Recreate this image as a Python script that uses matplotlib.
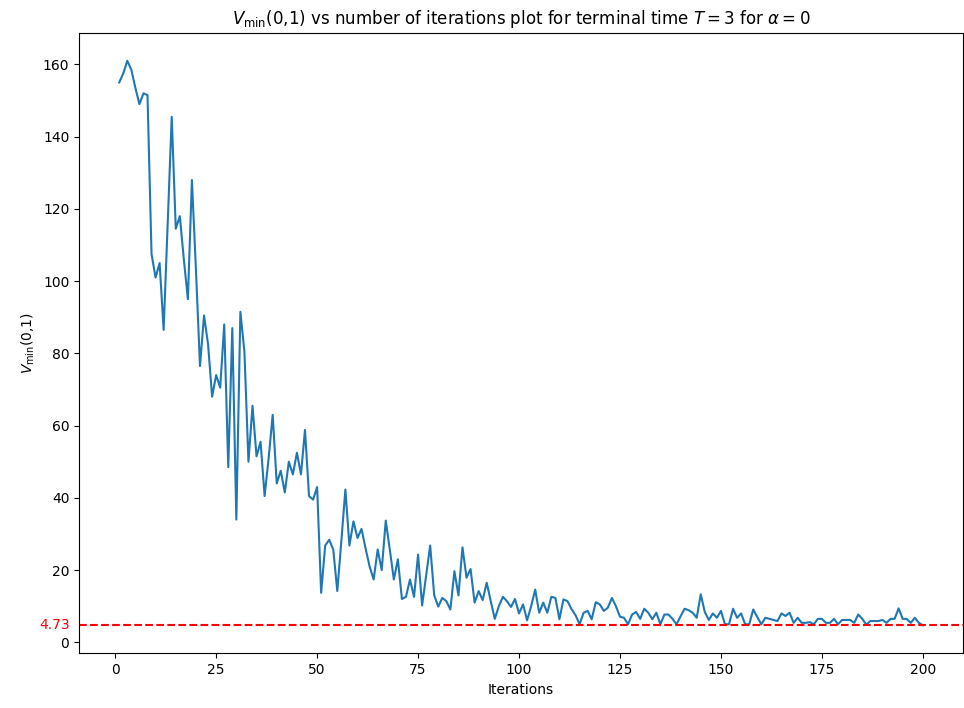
import numpy as np
import matplotlib.pyplot as plt

# V_min(0,1) per iteration
iterations = np.arange(1, 201)
v_min = [
    155, 157.5, 161, 158.5, 153.5, 149, 152, 151.5, 107.5, 101,
    105, 86.5, 116, 145.5, 114.5, 118, 106, 95, 128, 103,
    76.5, 90.5, 82.5, 68, 74, 70.5, 88, 48.5, 87, 34,
    91.5, 80.5, 50, 65.5, 51.5, 55.5, 40.5, 51, 63, 44,
    47.5, 41.5, 50, 46.5, 52.5, 46.5, 58.8, 40.5, 39.5, 43,
    13.7, 26.8, 28.4, 25.7, 14.2, 28, 42.3, 26.8, 33.5, 28.9,
    31.4, 26, 21, 17.4, 25.7, 20, 33.7, 25.7, 17.4, 23,
    12, 12.6, 17.4, 12.6, 24.3, 10.2, 18.5, 26.8, 13, 9.9,
    12.3, 11.4, 9.1, 19.7, 13, 26.3, 17.9, 20.3, 11, 14.2,
    11.7, 16.5, 11.4, 6.5, 10, 12.6, 11.4, 9.8, 12, 8,
    10.5, 6.1, 10, 14.6, 8.2, 11, 8.2, 12.6, 12.3, 6.4,
    11.9, 11.4, 9.2, 7.5, 5.0, 8.2, 8.7, 6.4, 11.1, 10.5,
    8.7, 9.6, 12.3, 10, 7.1, 6.8, 5.0, 7.7, 8.4, 6.5,
    9.3, 8.2, 6.4, 8.2, 5.0, 7.7, 7.7, 6.5, 5.0, 7.2,
    9.3, 8.9, 8.2, 6.8, 13.3, 8.4, 6.2, 8, 6.8, 8.7,
    5.0, 5.0, 9.3, 6.8, 8, 5.0, 5.0, 9.1, 7, 5.0,
    6.8, 6.5, 6.2, 5.9, 8, 7.3, 8.2, 5.4, 6.8, 5.4,
    5.4, 5.6, 5.0, 6.5, 6.5, 5.4, 5.4, 6.5, 5.0, 6.2,
    6.2, 6.2, 5.4, 7.7, 6.5, 4.9, 5.9, 5.9, 5.9, 6.2,
    5.4, 6.5, 6.5, 9.4, 6.5, 6.5, 5.4, 6.8, 5.4, 4.73,
]
best_value = 4.73

fig, ax = plt.subplots(figsize=(9.64, 7.08), dpi=100)
fig.subplots_adjust(left=0.082, right=0.999, top=0.954, bottom=0.077)

ax.plot(iterations, v_min, color="#1f77b4", linewidth=1.5)
ax.axhline(best_value, color="red", linestyle="--", linewidth=1.5)
ax.text(-0.01, best_value, f"{best_value:.2f}", color="red", fontsize=10,
        ha="right", va="center", transform=ax.get_yaxis_transform())

ax.set_title(r"$V_{\min}$(0,1) vs number of iterations plot for terminal time $T=3$ for $\alpha=0$",
             fontsize=12)
ax.set_xlabel("Iterations")
ax.set_ylabel(r"$V_{\min}$(0,1)")

fig.savefig("out.png", dpi=100)
